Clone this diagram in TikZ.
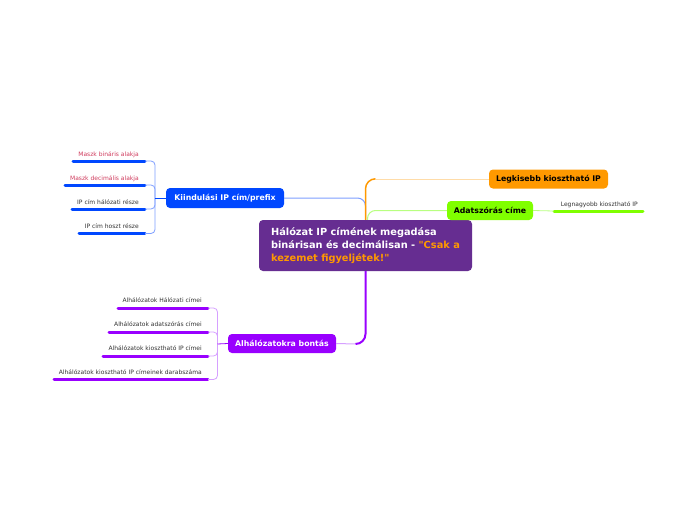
\documentclass[tikz,border=0pt]{standalone}
\usepackage{fontspec}
\setmainfont{DejaVu Sans}
\definecolor{central}{HTML}{662D91}
\definecolor{ctext}{HTML}{FF9900}
\definecolor{kblue}{HTML}{0047FF}
\definecolor{lblue}{HTML}{7F9FFF}
\definecolor{korange}{HTML}{FF9900}
\definecolor{lorange}{HTML}{FFDCA8}
\definecolor{kgreen}{HTML}{80FF00}
\definecolor{lgreen}{HTML}{B8FF80}
\definecolor{kpurple}{HTML}{9900FF}
\definecolor{lpurple}{HTML}{D6A0FF}
\definecolor{maskred}{HTML}{D03C5E}
\definecolor{leafgray}{HTML}{333333}
\begin{document}
\begin{tikzpicture}[x=1pt,y=1pt,
  box/.style={rounded corners=4pt, inner sep=0pt, font=\bfseries\fontsize{7.8}{9}\selectfont, align=center},
  leaf/.style={anchor=base east, inner sep=0pt, font=\fontsize{6}{7}\selectfont, text=leafgray},
  bar/.style={line width=3pt, line cap=round},
  bracket/.style={line width=0.8pt, rounded corners=4pt},
]
\useasboundingbox (0,0) rectangle (697,-520);
\fill[white] (0,0) rectangle (697,-520);

% central node
\node[box, fill=central, text=white, minimum width=213pt, minimum height=51pt, align=left,
      font=\bfseries\fontsize{9.8}{13}\selectfont] (c) at (365.5,-245.5)
  {Hálózat IP címének megadása\\binárisan és decimálisan - \textcolor{ctext}{\textquotedbl Csak a}\\\textcolor{ctext}{kezemet figyeljétek!\textquotedbl}};

% main branch nodes
\node[box, fill=kblue, text=white, minimum width=118pt, minimum height=20pt] (k) at (225,-198) {Kiindulási IP cím/prefix};
\node[box, fill=korange, text=black, minimum width=119pt, minimum height=19pt] (lg) at (548.5,-179) {Legkisebb kiosztható IP};
\node[box, fill=kgreen, text=black, minimum width=86pt, minimum height=19pt] (ad) at (490,-210.5) {Adatszórás címe};
\node[box, fill=kpurple, text=white, minimum width=108pt, minimum height=19pt] (al) at (282,-343.5) {Alhálózatokra bontás};

% main connectors
\draw[lblue, line width=1pt, rounded corners=8pt] (k.east) -| (c.north);
\coordinate (oc) at (375.5,-179);
\draw[lorange, line width=1pt] (oc) -- (lg.west);
\draw[korange, line width=1.5pt] (c.north) -- ++(0,31) arc(180:90:10);
\draw[lgreen, line width=1pt, rounded corners=8pt] ([xshift=2pt]c.north) |- (ad.west);
\coordinate (pc) at (355.5,-344);
\draw[lpurple, line width=1pt] (pc) -- (al.east);
\draw[kpurple, line width=2pt] (c.south) -- (365.5,-334) arc(0:-90:10);

% Kiindulasi leaves
\node[leaf, text=maskred] (k1) at (139,-156.5) {Maszk bináris alakja};
\node[leaf, text=maskred] (k2) at (139,-180.5) {Maszk decimális alakja};
\node[leaf] (k3) at (139,-204.5) {IP cím hálózati része};
\node[leaf] (k4) at (139,-228.8) {IP cím hoszt része};
\coordinate (kb1) at (145,-161);
\coordinate (kb2) at (145,-185);
\coordinate (kb3) at (145,-209);
\coordinate (kb4) at (145,-233.5);
\coordinate (kh) at (155,-198);
\draw[bar, kblue] (73,-161) -- (kb1);
\draw[bar, kblue] (65,-185) -- (kb2);
\draw[bar, kblue] (72,-209) -- (kb3);
\draw[bar, kblue] (79,-233.5) -- (kb4);
\foreach \b in {kb1,kb2,kb3,kb4} \draw[bracket, lblue] (\b) -| (kh);
\draw[kblue, line width=0.8pt] (kh) -- (k.west);

% Alhalozatokra leaves
\node[leaf] (a1) at (202,-302.5) {Alhálózatok Hálózati címei};
\node[leaf] (a2) at (202,-326.5) {Alhálózatok adatszórás címei};
\node[leaf] (a3) at (202,-350.5) {Alhálózatok kiosztható IP címei};
\node[leaf] (a4) at (202,-374.5) {Alhálózatok kiosztható IP címeinek darabszáma};
\coordinate (ab1) at (208,-308);
\coordinate (ab2) at (208,-332);
\coordinate (ab3) at (208,-356);
\coordinate (ab4) at (208,-379.5);
\coordinate (ah) at (217.5,-344);
\draw[bar, kpurple] (118,-308) -- (ab1);
\draw[bar, kpurple] (109,-332) -- (ab2);
\draw[bar, kpurple] (103,-356) -- (ab3);
\draw[bar, kpurple] (54,-379.5) -- (ab4);
\foreach \b in {ab1,ab2,ab3,ab4} \draw[bracket, lpurple] (\b) -| (ah);
\draw[kpurple, line width=0.8pt] (ah) -- (al.west);

% Adatszoras leaf
\node[leaf] (g1) at (638,-206.5) {Legnagyobb kiosztható IP};
\coordinate (gb) at (554,-211);
\draw[bar, kgreen] (gb) -- (643,-211);
\draw[lgreen, line width=0.8pt] (ad.east) -- (gb);
\end{tikzpicture}
\end{document}
